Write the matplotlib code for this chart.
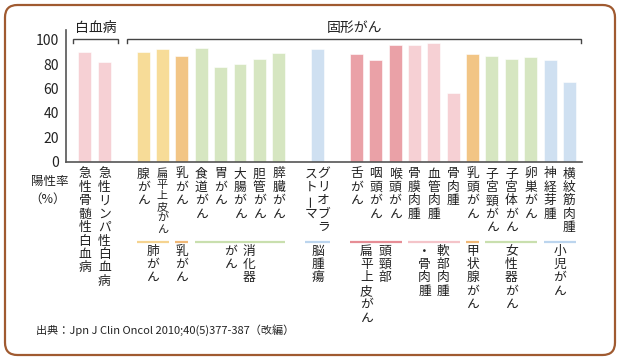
import matplotlib
matplotlib.use('Agg')
import matplotlib.pyplot as plt
from matplotlib.patches import FancyBboxPatch
from matplotlib.transforms import offset_copy

plt.rcParams['font.family'] = ['Noto Sans CJK JP', 'DejaVu Sans']

# 棒ごとのラベル（縦書き、'/' で列を区切る。右の列が先）
bar_names = ['急性骨髄性白血病', '急性リンパ性白血病',
             '腺がん', '扁平上皮がん', '乳がん',
             '食道がん', '胃がん', '大腸がん', '胆管がん', '膵臓がん',
             'グリオブラ/ストーマ',
             '舌がん', '咽頭がん', '喉頭がん',
             '骨膜肉腫', '血管肉腫', '骨肉腫',
             '乳頭がん',
             '子宮頸がん', '子宮体がん', '卵巣がん',
             '神経芽腫', '横紋筋肉腫']
positive_rate = [90, 82,
                 90, 92, 87,
                 93, 78, 80, 84, 89,
                 92,
                 88, 83, 96,
                 96, 97, 56,
                 88,
                 87, 84, 86,
                 83, 65]

# グループ（下の分類）
group_names = ['白血病', '肺がん', '乳がん', '消化器/がん', '脳腫瘍',
               '頭頸部/扁平上皮がん', '軟部肉腫/・骨肉腫', '甲状腺がん',
               '女性器がん', '小児がん']
group_size = [2, 2, 1, 5, 1, 3, 3, 1, 3, 2]
group_colors = ['#f6d0d4', '#f7dc98', '#f2c585', '#d6e6c1', '#cfe0f1',
                '#eaa1a7', '#f6d0d4', '#f2c585', '#d6e6c1', '#cfe0f1']
line_colors = ['#f6d0d4', '#f5d390', '#f0b877', '#c9dfae', '#bcd5ee',
               '#e68d95', '#f4c4c9', '#f0b877', '#c9dfae', '#bcd5ee']

# 上の括弧
top_groups = ['白血病', '固形がん']
top_group_span = [1, 9]   # 何グループ分か

# 空きを入れる位置（グループ番号）
gap_before = [1, 4, 5]

# 棒の位置を計算
xs = []
bar_color = []
bar_group = []
slot = 0
for g, n in enumerate(group_size):
    if g in gap_before:
        slot += 1
    for k in range(n):
        xs.append(slot)
        bar_color.append(group_colors[g])
        bar_group.append(g)
        slot += 1

fig = plt.figure(figsize=(6.2, 3.6), dpi=100)
ax = fig.add_axes([66 / 620, (360 - 161.5) / 360, (582 - 66) / 620, (161.5 - 30) / 360])

# 枠
frame = FancyBboxPatch((5 / 620, 5 / 360), 610 / 620, 350 / 360,
                       boxstyle='round,pad=0,rounding_size=0.02',
                       transform=fig.transFigure, fill=False,
                       edgecolor='#a05a30', linewidth=1.6, mutation_aspect=620 / 360)
fig.patches.append(frame)

bw = 0.67
ax.bar(xs, positive_rate, width=bw, color=bar_color, edgecolor='white', linewidth=0.4)

ax.set_xlim(-0.98, 25.65)
ax.set_ylim(0, 108)
ax.set_yticks([0, 20, 40, 60, 80, 100])
ax.set_xticks([])
ax.tick_params(axis='y', length=0, pad=5, labelsize=10, labelcolor='#222222')
for s in ['top', 'right']:
    ax.spines[s].set_visible(False)
for s in ['left', 'bottom']:
    ax.spines[s].set_color('#555555')
    ax.spines[s].set_linewidth(1.2)

PITCH = 13.4


def vtext(x, text, top, col_gap, size, pitch=PITCH):
    cols = text.split('/')
    ncol = len(cols)
    for j, col in enumerate(cols):
        dx = ((ncol - 1) / 2 - j) * col_gap
        for i, ch in enumerate(col):
            ax.annotate(ch, xy=(x, 0), xycoords=('data', 'axes fraction'),
                        xytext=(dx, -(top + i * pitch)), textcoords='offset pixels',
                        ha='center', va='center', fontsize=size, color='#222222',
                        rotation=90 if ch == 'ー' else 0, annotation_clip=False)


# 棒のラベル（下の線に掛かるものは詰める）
for x, name, g in zip(xs, bar_names, bar_group):
    n = max(len(c) for c in name.split('/'))
    p = PITCH
    size = 9.2
    if g != 0 and 12.5 + (n - 1) * PITCH > 68:
        p = (68 - 12.5) / (n - 1)
        size = 8.0
    vtext(x, name, 12.5, 12.5, size, p)

# グループの線とラベル（線は軸の 80px 下）
line_tr = offset_copy(ax.get_xaxis_transform(), fig=fig, x=0, y=-80, units='dots')
for g in range(1, len(group_names)):
    idx = [i for i in range(len(xs)) if bar_group[i] == g]
    half = bw / 2
    for i in idx:
        half = max(half, len(bar_names[i].split('/')) * 0.33)
    x0 = xs[idx[0]] - half
    x1 = xs[idx[-1]] + half
    ax.plot([x0, x1], [0, 0], color=line_colors[g], lw=1.6, transform=line_tr,
            clip_on=False, solid_capstyle='butt')
    vtext((x0 + x1) / 2, group_names[g], 89.5, 18.5, 9.2)

# 上の括弧
g0 = 0
pads = [(-0.62, 0.70), (-0.83, 0.60)]
for k, name in enumerate(top_groups):
    gs = range(g0, g0 + top_group_span[k])
    idx = [i for i in range(len(xs)) if bar_group[i] in gs]
    bx0 = xs[idx[0]] + pads[k][0]
    bx1 = xs[idx[-1]] + pads[k][1]
    ax.plot([bx0, bx0, bx1, bx1], [97.5, 101, 101, 97.5], color='#444444', lw=1.0,
            clip_on=False, solid_joinstyle='miter')
    ax.text((bx0 + bx1) / 2, 109.5, name, ha='center', va='center', fontsize=10,
            color='#222222', clip_on=False)
    g0 += top_group_span[k]

fig.text(50 / 620, 1 - 182 / 360, '陽性率', ha='center', va='center', fontsize=9, color='#222222')
fig.text(48 / 620, 1 - 199 / 360, '（%）', ha='center', va='center', fontsize=9, color='#222222')
fig.text(36 / 620, 1 - 330 / 360, '出典：Jpn J Clin Oncol 2010;40(5)377-387（改編）',
         ha='left', va='center', fontsize=8, color='#222222')

fig.savefig('out.png', dpi=100)
